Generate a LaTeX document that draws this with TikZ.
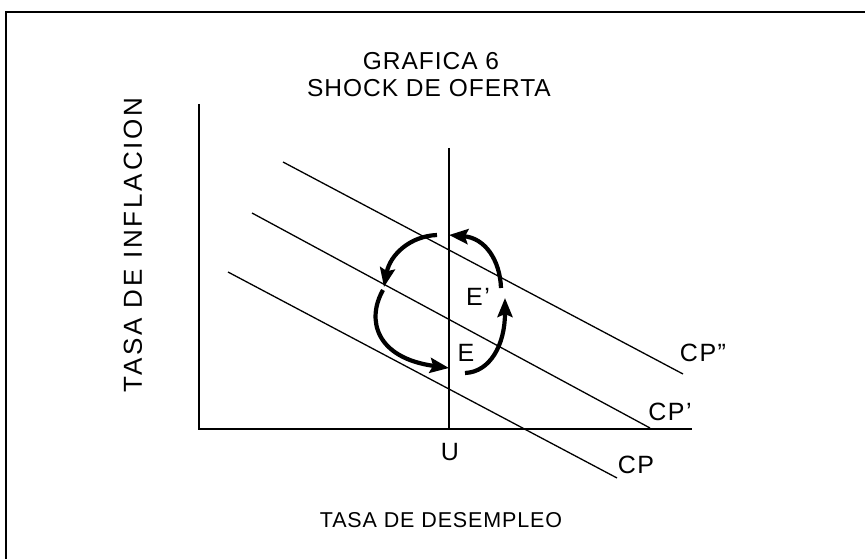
\documentclass[tikz,border=0pt]{standalone}
\usepackage{fontspec}
\setmainfont{Liberation Sans}
\usetikzlibrary{arrows.meta}
\tikzset{
  lbl/.style={font=\fontsize{25}{27}\selectfont\addfontfeature{LetterSpace=6}, inner sep=0pt},
  ttl/.style={font=\fontsize{24.5}{27}\selectfont\addfontfeature{LetterSpace=4}, inner sep=0pt},
  ylbl/.style={font=\fontsize{26}{28}\selectfont\addfontfeature{LetterSpace=11}, inner sep=0pt},
  xlbl/.style={font=\fontsize{21.5}{25}\selectfont\addfontfeature{LetterSpace=4}, inner sep=0pt},
  axisline/.style={line width=1.8pt},
  cpline/.style={line width=1.3pt},
  cyc/.style={line width=4.2pt, -{Stealth[length=19pt,width=15pt,inset=3pt]}},
}
\begin{document}
\begin{tikzpicture}[x=1pt,y=-1pt]
\useasboundingbox (0,0) rectangle (865,559);
% frame
\draw[line width=2pt] (6,559) -- (6,12) -- (865,12);
% titles
\node[ttl] (t1) at (431,61) {GRAFICA 6};
\node[ttl] (t2) at (429,88) {SHOCK DE OFERTA};
\node[ylbl, rotate=90] (ylab) at (133,245) {TASA DE INFLACION};
\node[xlbl] (xlab) at (441,520) {TASA DE DESEMPLEO};
% axes
\coordinate (ytop) at (199,104);
\coordinate (orig) at (199,429);
\coordinate (xend) at (692,429);
\draw[axisline] (ytop) -- (orig) -- (xend);
\coordinate (utop) at (449,148);
\coordinate (ubot) at (449,429);
\draw[axisline] (utop) -- (ubot);
\node[lbl] (U) at (450,452) {U};
% CP lines
\coordinate (cp2a) at (283,162);
\coordinate (cp2b) at (683,374);
\coordinate (cp1a) at (252,213);
\coordinate (cp1b) at (650,428);
\coordinate (cp0a) at (228,272);
\coordinate (cp0b) at (617,478);
\draw[cpline] (cp2a) -- (cp2b);
\draw[cpline] (cp1a) -- (cp1b);
\draw[cpline] (cp0a) -- (cp0b);
\node[lbl] (CP2) at (703,353) {CP''};
\node[lbl] (CP1) at (670,412) {CP'};
\node[lbl] (CP0) at (636,465) {CP};
% equilibrium labels
\node[lbl] (E1) at (478,297) {E'};
\node[lbl] (E0) at (466,353) {E};
% cycle arrows
\coordinate (a1) at (437,235);
\coordinate (a2) at (384,287);
\coordinate (b1) at (383,290);
\coordinate (b2) at (449,368);
\coordinate (c1) at (465,373);
\coordinate (c2) at (505,298);
\coordinate (d1) at (501,288);
\coordinate (d2) at (449,235);
\draw[cyc] (a1) .. controls (410,236) and (390,255) .. (a2);
\draw[cyc] (b1) .. controls (366,320) and (376,358) .. (b2);
\draw[cyc] (c1) .. controls (490,372) and (505,345) .. (c2);
\draw[cyc] (d1) .. controls (500,260) and (485,238) .. (d2);
\end{tikzpicture}
\end{document}
